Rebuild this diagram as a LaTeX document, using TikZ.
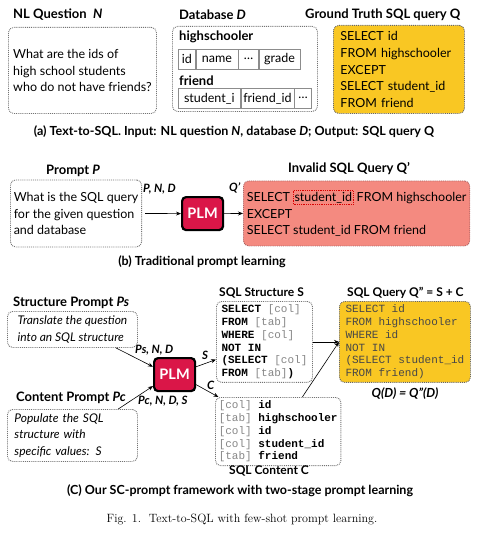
\documentclass[tikz,border=0pt]{standalone}
\usepackage{fontspec}
\setsansfont{Lato}
\setmonofont{Liberation Mono}
\usetikzlibrary{arrows.meta, positioning}

\definecolor{gtyellow}{RGB}{249,199,35}
\definecolor{badred}{RGB}{244,138,128}
\definecolor{plmred}{RGB}{218,22,72}
\definecolor{colgray}{RGB}{135,135,135}

\begin{document}
\sffamily
\begin{tikzpicture}[x=1pt, y=-1pt,
	txt/.style={font=\fontsize{12.5}{16.8}\selectfont, align=left},
	ttl/.style={font=\fontsize{13}{15}\selectfont\bfseries, inner sep=0pt, anchor=west},
	capline/.style={font=\fontsize{12.5}{14}\selectfont\bfseries, inner sep=0pt},
	lbl/.style={font=\fontsize{11.5}{13}\selectfont\bfseries\itshape, inner sep=0pt, anchor=west},
	code/.style={font=\fontsize{11}{12.8}\selectfont\ttfamily, align=left},
	dotbox/.style={draw=black!55, densely dotted, line width=0.9pt, rounded corners=5pt, anchor=north west},
	cell/.style={draw=black!45, solid, line width=0.6pt, minimum height=20pt, inner sep=0pt, font=\fontsize{12.5}{14}\selectfont},
	plm/.style={draw=black, line width=2.2pt, fill=plmred, rounded corners=4pt, text=white, font=\fontsize{14.5}{16}\selectfont\bfseries, minimum width=41pt, minimum height=33pt, anchor=north west},
	arr/.style={-{Stealth[length=5pt, width=4pt]}, line width=0.6pt}]
	\fill[white] (0,0) rectangle (480,535);
	\useasboundingbox (0,0) rectangle (480,535);

	\node[ttl] (tnl) at (13,15) {NL Question \ \textit{N}};
	\node[ttl] (tdb) at (179,15) {Database \textit{D}};
	\node[ttl] (tgt) at (305,15) {Ground Truth SQL query Q};
	\node[dotbox, txt, minimum width=148pt, minimum height=86pt] (nlq) at (8,27) {What are the ids of\\high school students\\who do not have friends?};
	\node[dotbox, minimum width=145pt, minimum height=85pt] (db) at (172,26) {};
	\node[ttl] (ths) at (179,37) {highschooler};
	\node[cell, minimum width=17pt, anchor=north west] (hs1) at (178,49) {id};
	\node[cell, minimum width=42pt, right=0pt of hs1] (hs2) {name};
	\node[cell, minimum width=20pt, right=0pt of hs2] (hs3) {…};
	\node[cell, minimum width=41pt, right=0pt of hs3] (hs4) {grade};
	\node[ttl] (tfr) at (179,81) {friend};
	\node[cell, minimum width=62pt, anchor=north west] (fr1) at (178,88) {student\_i};
	\node[cell, minimum width=53pt, right=0pt of fr1] (fr2) {friend\_id};
	\node[cell, minimum width=17pt, right=0pt of fr2] (fr3) {…};
	\node[dotbox, txt, fill=gtyellow, draw=black!60, text width=117pt, inner xsep=7pt, minimum height=88pt] (gtq) at (333,25) {SELECT id\\FROM highschooler\\EXCEPT\\SELECT student\_id\\FROM friend};
	\node[capline] (capa) at (234,132) {(a) Text-to-SQL. Input: NL question \textit{N}, database \textit{D}; Output: SQL query Q};

	\node[ttl] (tpr) at (46,171) {Prompt \textit{P}};
	\node[ttl] (tiv) at (288,169) {Invalid SQL Query Q’};
	\node[dotbox, txt, minimum width=128pt, minimum height=67pt] (prm) at (10,179.5) {What is the SQL query\\for the given question\\and database};
	\node[plm] (plmb) at (181,196) {PLM};
	\node[dotbox, txt, fill=badred, draw=red!45!black!60, minimum width=224pt, minimum height=65pt] (bad) at (243,180.5) {SELECT \tikz[baseline=(sid.base)]\node[draw=red!85!black, densely dotted, line width=0.8pt, fill=none, rounded corners=0pt, minimum width=0pt, minimum height=0pt, inner xsep=1pt, inner ysep=1.5pt, anchor=center] (sid) {student\_id}; FROM highschooler\\EXCEPT\\SELECT student\_id FROM friend};
	\draw[arr, shorten <=3pt] (prm.east) -- (plmb.west);
	\draw[arr] (plmb.east) -- (bad.west);
	\node[lbl] (lpnd) at (143,189) {P, N, D};
	\node[lbl] (lqp) at (229,188) {Q’};
	\node[capline] (capb) at (202,262) {(b) Traditional prompt learning};

	\node[ttl] (tsp) at (13,303) {Structure Prompt \textit{Ps}};
	\node[dotbox, txt, font=\fontsize{12}{16.8}\selectfont\itshape, minimum width=130pt, minimum height=36pt] (sp) at (7,311) {Translate the question\\into an SQL structure};
	\node[ttl] (tcp) at (16,398) {Content Prompt \textit{Pc}};
	\node[dotbox, txt, font=\fontsize{12}{16.4}\selectfont\itshape, text width=116pt, inner xsep=7pt, minimum height=52pt] (cp) at (7,409) {Populate the SQL\\structure with\\specific values: \textit{S}};
	\node[plm] (plmc) at (153,357) {PLM};
	\node[ttl, font=\fontsize{12}{14}\selectfont\bfseries] (tss) at (219,293) {SQL Structure S};
	\node[dotbox, code, minimum width=96pt, minimum height=80pt] (sst) at (216,301) {\textbf{SELECT} {\color{colgray}[col]}\\\textbf{FROM} {\color{colgray}[tab]}\\\textbf{WHERE} {\color{colgray}[col]}\\\textbf{NOT IN}\\\textbf{(SELECT} {\color{colgray}[col]}\\\textbf{FROM} {\color{colgray}[tab]}\textbf{)}};
	\node[dotbox, code, minimum width=125pt, minimum height=65pt] (sct) at (215,397) {{\color{colgray}[col]} \textbf{id}\\{\color{colgray}[tab]} \textbf{highschooler}\\{\color{colgray}[col]} \textbf{id}\\{\color{colgray}[col]} \textbf{student\_id}\\{\color{colgray}[tab]} \textbf{friend}};
	\node[ttl, font=\fontsize{12}{14}\selectfont\bfseries] (tsc) at (229,471) {SQL Content C};
	\node[ttl, font=\fontsize{12}{14}\selectfont\bfseries] (tsq) at (347,293) {SQL Query Q” = S + C};
	\node[dotbox, code, fill=gtyellow, draw=black!60, text=black!72, minimum width=131pt, minimum height=80pt] (sq) at (339,301) {SELECT id\\FROM highschooler\\WHERE id\\NOT IN\\(SELECT student\_id\\FROM friend)};
	\node[font=\fontsize{12.5}{14}\selectfont\bfseries\itshape, inner sep=0pt] (qeq) at (405,394) {Q(D) = Q”(D)};
	\draw[arr] (sp.-23) -- (plmc.160);
	\draw[arr] (cp.30) -- (plmc.208);
	\draw[arr] (plmc.20) -- (sst.200);
	\draw[arr] (plmc.-25) -- (sct.150);
	\draw[arr] (sst.east) -- (sq.west);
	\draw[arr] (sct.55) -- (sq.west);
	\node[lbl] (lps) at (135,350) {Ps, N, D};
	\node[lbl] (lpc) at (138,401) {Pc, N, D, S};
	\node[lbl] (ls) at (202,355) {S};
	\node[lbl] (lc) at (207,385) {C};
	\node[capline] (capc) at (240,491) {(C) Our SC-prompt framework with two-stage prompt learning};
	\node[font=\rmfamily\fontsize{12}{14}\selectfont, inner sep=0pt] (fig) at (242,519) {Fig. 1.\ \ Text-to-SQL with few-shot prompt learning.};
\end{tikzpicture}
\end{document}
